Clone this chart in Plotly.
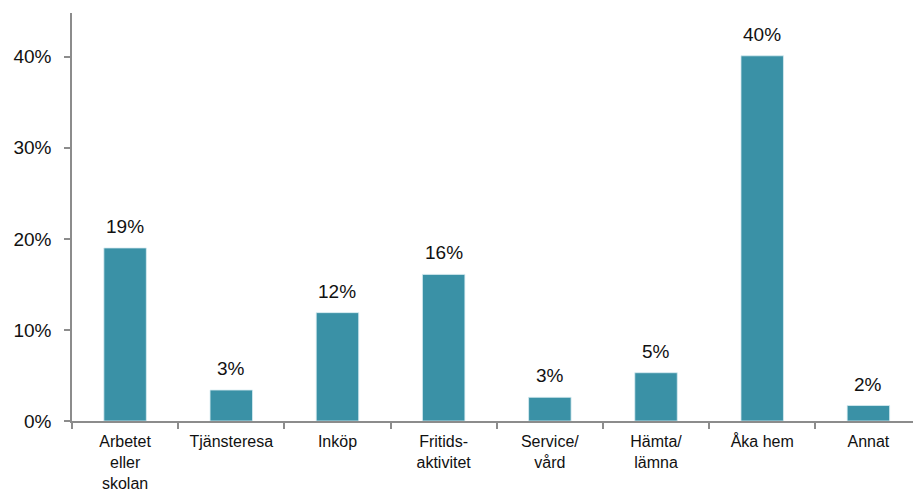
import plotly.graph_objects as go

# Ärende för resan (andel av resor, %)
categories = ["Arbetet<br>eller<br>skolan", "Tjänsteresa", "Inköp", "Fritids-<br>aktivitet",
              "Service/<br>vård", "Hämta/<br>lämna", "Åka hem", "Annat"]
values = [19.0, 3.4, 11.9, 16.1, 2.6, 5.3, 40.1, 1.7]
y_ticks = [0, 10, 20, 30, 40]
y_tick_labels = ["0%", "10%", "20%", "30%", "40%"]

bar_color = "#3A91A6"
axis_color = "#8C8C8C"
font_family = "Liberation Sans, Arial, sans-serif"

fig = go.Figure(
    go.Bar(
        x=categories,
        y=values,
        marker=dict(color=bar_color, line=dict(color="#D8ECF1", width=0.8)),
        width=0.4,
        hoverinfo="skip",
    )
)

# Value labels above each bar
for cat, v in zip(categories, values):
    fig.add_annotation(
        x=cat, y=v, text=f"{v:.0f}%", showarrow=False,
        yanchor="bottom", yshift=9,
        font=dict(family=font_family, size=19, color="#111111"),
    )

fig.update_layout(
    width=913, height=493,
    margin=dict(l=72, r=0, t=13, b=72),
    paper_bgcolor="white", plot_bgcolor="white",
    showlegend=False,
    font=dict(family=font_family, color="#111111"),
)

fig.update_xaxes(
    type="category",
    range=[-0.5, 7.42],
    automargin=False,
    showline=True, linecolor=axis_color, linewidth=1.5,
    ticks="outside", tickson="boundaries", ticklen=6, tickcolor=axis_color, tickwidth=1.5,
    ticklabelstandoff=5,
    tickfont=dict(size=16, family=font_family, color="#111111"),
    showgrid=False, zeroline=False,
)
fig.update_yaxes(
    range=[0, 44.8],
    automargin=False,
    tickvals=y_ticks, ticktext=y_tick_labels,
    showline=True, linecolor=axis_color, linewidth=1.5,
    ticks="outside", ticklen=6, tickcolor=axis_color, tickwidth=1.5,
    ticklabelstandoff=9,
    tickfont=dict(size=19, family=font_family, color="#111111"),
    showgrid=False, zeroline=False,
)

fig.write_html("out.html")
